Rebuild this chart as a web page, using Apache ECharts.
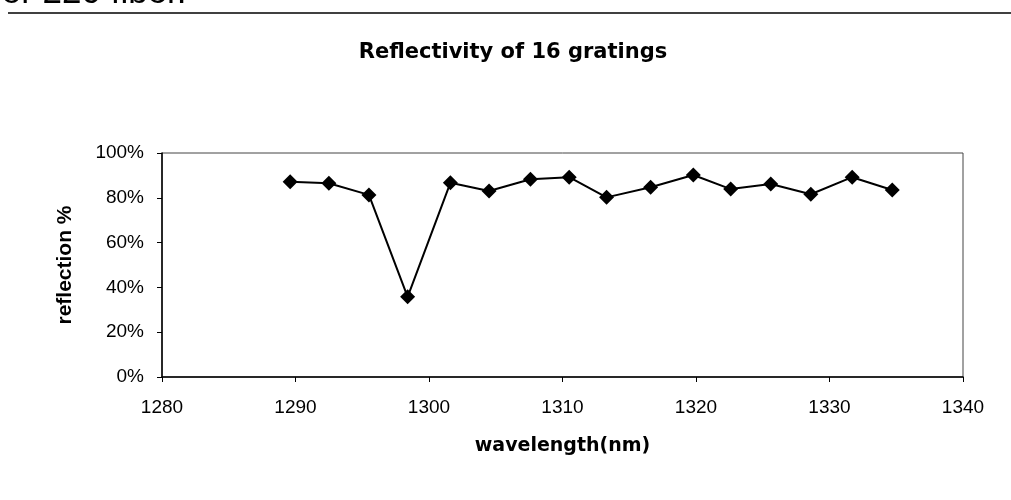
<!DOCTYPE html>
<html><head><meta charset="utf-8">
<script src="https://cdn.jsdelivr.net/npm/echarts@6/dist/echarts.min.js"></script>
<style>html,body{margin:0;padding:0;background:#fff}#c{width:1011px;height:500px}</style>
</head><body><div id="c"></div>
<script>
const wavelengths = [1289.6,1292.5,1295.5,1298.4,1301.6,1304.5,1307.6,1310.5,1313.3,1316.6,1319.8,1322.6,1325.6,1328.6,1331.7,1334.7];
const reflection = [87.2,86.5,81.3,35.8,86.7,83.0,88.3,89.2,80.2,84.7,90.2,83.9,86.2,81.6,89.2,83.5];
const xTicks = [1280,1290,1300,1310,1320,1330,1340];
const yTicks = [0,20,40,60,80,100];

const chart = echarts.init(document.getElementById('c'));
chart.setOption({
  animation:false,
  backgroundColor:'#fff',
  title:{text:'Reflectivity of 16 gratings',left:508,top:37,textAlign:'center',
    textStyle:{fontFamily:'DejaVu Sans',fontWeight:'bold',fontSize:21,color:'#000'}},
  graphic:[
    {type:'text',left:-8,top:-24,style:{text:'for 220 fiber.',fontFamily:'Liberation Sans',fontSize:35,fill:'#000'}},
    {type:'line',shape:{x1:8,y1:13,x2:1011,y2:13},style:{stroke:'#000',lineWidth:1.5}},
    {type:'rect',shape:{x:162,y:153,width:801,height:224},style:{fill:'none',stroke:'#444',lineWidth:1}}
  ],
  grid:{left:162,right:48,top:153,bottom:123,containLabel:false},
  xAxis:{type:'value',min:xTicks[0],max:xTicks[xTicks.length-1],interval:10,
    name:'wavelength(nm)',nameLocation:'middle',nameGap:60,nameMoveOverlap:false,
    nameTextStyle:{fontFamily:'DejaVu Sans',fontWeight:'bold',fontSize:19,color:'#000'},
    axisLine:{show:true,onZero:false,lineStyle:{color:'#000',width:1.5}},
    axisTick:{show:true,length:5,lineStyle:{color:'#000'}},
    axisLabel:{fontFamily:'Liberation Sans',fontSize:19,color:'#000',margin:21,formatter:v=>String(v)},
    splitLine:{show:false}},
  yAxis:{type:'value',min:yTicks[0],max:yTicks[yTicks.length-1],interval:20,
    name:'reflection %',nameLocation:'middle',nameGap:86,nameRotate:90,nameMoveOverlap:false,
    nameTextStyle:{fontFamily:'Liberation Sans',fontWeight:'bold',fontSize:21,color:'#000'},
    axisLine:{show:true,lineStyle:{color:'#000',width:1.5}},
    axisTick:{show:true,length:5,lineStyle:{color:'#000'}},
    axisLabel:{fontFamily:'Liberation Sans',fontSize:19,color:'#000',margin:18,formatter:v=>v+'%'},
    splitLine:{show:false}},
  series:[{type:'line',data:wavelengths.map((w,i)=>[w,reflection[i]]),
    symbol:'diamond',symbolSize:15,
    lineStyle:{color:'#000',width:2},itemStyle:{color:'#000'}}]
});
</script></body></html>
